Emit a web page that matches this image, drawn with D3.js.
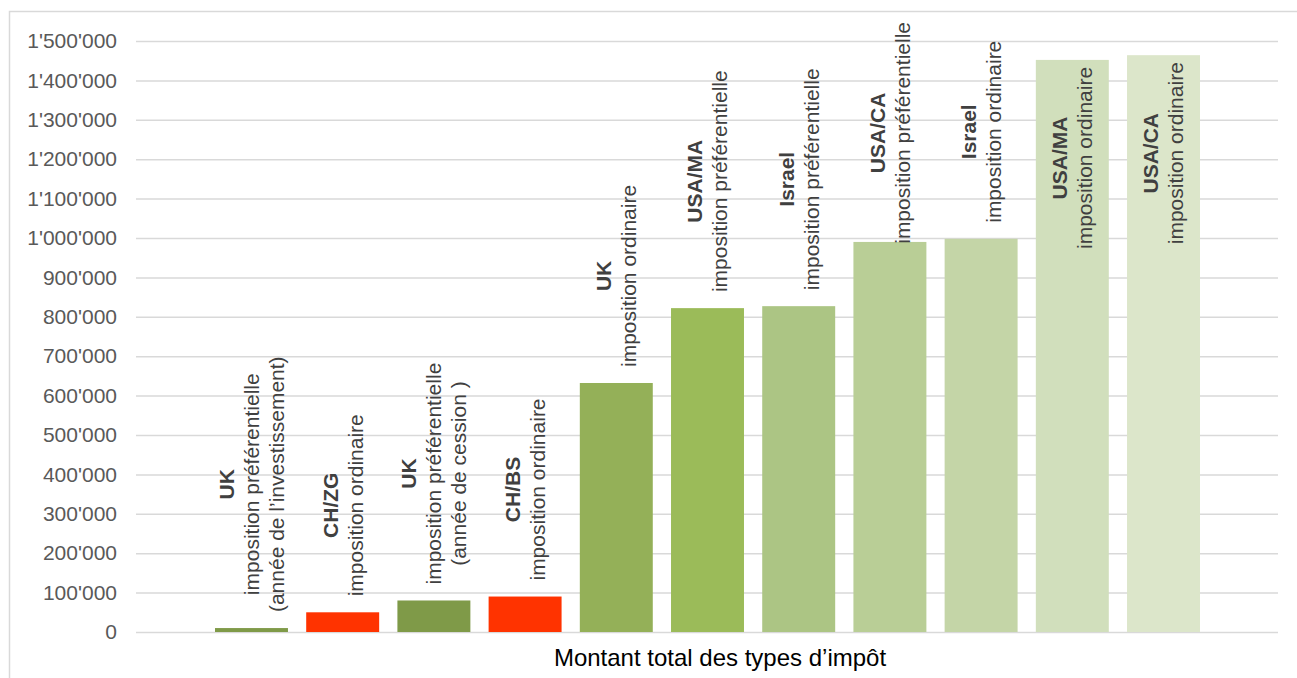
<!DOCTYPE html>
<html>
<head>
<meta charset="utf-8">
<script src="https://cdn.jsdelivr.net/npm/d3@7"></script>
<style>
  html, body { margin: 0; padding: 0; background: #fff; }
  svg { display: block; font-family: "Liberation Sans", Arial, sans-serif; }
</style>
</head>
<body>
<svg id="chart" width="1297" height="678"></svg>
<script>
// Tax jurisdiction (bold first label line) for each bar
const jurisdictions = ["UK", "CH/ZG", "UK", "CH/BS", "UK", "USA/MA", "Israel", "USA/CA", "Israel", "USA/MA", "USA/CA"];

// Tax regime lines drawn under the jurisdiction
const regimes = [
  ["imposition préférentielle", "(année de l’investissement)"],
  ["imposition ordinaire"],
  ["imposition préférentielle", "(année de cession )"],
  ["imposition ordinaire"],
  ["imposition ordinaire"],
  ["imposition préférentielle"],
  ["imposition préférentielle"],
  ["imposition préférentielle"],
  ["imposition ordinaire"],
  ["imposition ordinaire"],
  ["imposition ordinaire"]
];

// Total tax amount per case
const totals = [10000, 50000, 80000, 90000, 632000, 822000, 827000, 990000, 998000, 1452000, 1464000];

// Fill per bar
const barColors = ["#7f9a48", "#ff3300", "#7f9a48", "#ff3300", "#94b058", "#9bbb59", "#acc584", "#b9ce96", "#c4d5a7", "#d1dfbc", "#dce6ca"];

// Value axis ticks
const yTicks = [0, 100000, 200000, 300000, 400000, 500000, 600000, 700000, 800000, 900000, 1000000, 1100000, 1200000, 1300000, 1400000, 1500000];

const axisTitle = "Montant total des types d’impôt";

const svg = d3.select("#chart");
const plot = { left: 136, right: 1278, top: 41, bottom: 632 };

// Outer chart frame (runs off the right and bottom edges)
svg.append("rect")
  .attr("x", 9.5).attr("y", 11.5)
  .attr("width", 1320).attr("height", 700)
  .attr("fill", "none").attr("stroke", "#d9d9d9").attr("stroke-width", 1.5);

const ids = totals.map((d, i) => i);
const x = d3.scaleBand().domain(ids).range([215, 1200]).paddingInner(0.2).paddingOuter(0);
const y = d3.scaleLinear().domain([0, 1500000]).range([plot.bottom, plot.top]);

const fmt = v => d3.format(",")(v).replace(/,/g, "'");

// Gridlines + tick labels
const yAxis = d3.axisLeft(y).tickValues(yTicks).tickFormat(fmt)
  .tickSize(-(plot.right - plot.left)).tickPadding(19);
const gy = svg.append("g").attr("transform", `translate(${plot.left},0)`).call(yAxis);
gy.select(".domain").remove();
gy.selectAll(".tick line").attr("stroke", "#d9d9d9").attr("stroke-width", 1.5);
gy.selectAll(".tick text")
  .attr("fill", "#595959")
  .style("font-size", "21px")
  .style("font-family", "\"Liberation Sans\", Arial, sans-serif");

// Bars
svg.append("g").selectAll("rect")
  .data(ids)
  .join("rect")
  .attr("x", i => x(i))
  .attr("y", i => y(totals[i]))
  .attr("width", x.bandwidth())
  .attr("height", i => y(0) - y(totals[i]))
  .attr("fill", i => barColors[i]);

// Rotated data labels
const fontSize = 21, lineGap = 25, labelTopLimit = 22, gapAbove = 16, insidePad = 7;
const labels = svg.append("g");
ids.forEach(i => {
  const lines = [{ t: jurisdictions[i], bold: true }].concat(regimes[i].map(t => ({ t, bold: false })));
  const g = labels.append("g");
  const texts = lines.map((ln, k) => g.append("text")
    .attr("text-anchor", "middle")
    .attr("x", 0)
    .attr("y", (k - (lines.length - 1) / 2) * lineGap + fontSize * 0.35)
    .attr("fill", "#404040")
    .style("font-size", fontSize + "px")
    .style("font-weight", ln.bold ? "bold" : "normal")
    .text(ln.t));
  const L = d3.max(texts, t => t.node().getComputedTextLength());
  const barTop = y(totals[i]);
  let cy = barTop - gapAbove - L / 2;
  if (cy - L / 2 < labelTopLimit) {
    const clampedBottom = labelTopLimit + L;
    if (clampedBottom - barTop < L / 2) cy = labelTopLimit + L / 2;
    else cy = barTop + insidePad + L / 2;
  }
  const cx = x(i) + x.bandwidth() / 2;
  g.attr("transform", `translate(${cx},${cy}) rotate(-90)`);
});

// Category axis title
svg.append("text")
  .attr("x", 720).attr("y", 666)
  .attr("text-anchor", "middle")
  .attr("fill", "#000")
  .style("font-size", "24px")
  .text(axisTitle);
</script>
</body>
</html>
